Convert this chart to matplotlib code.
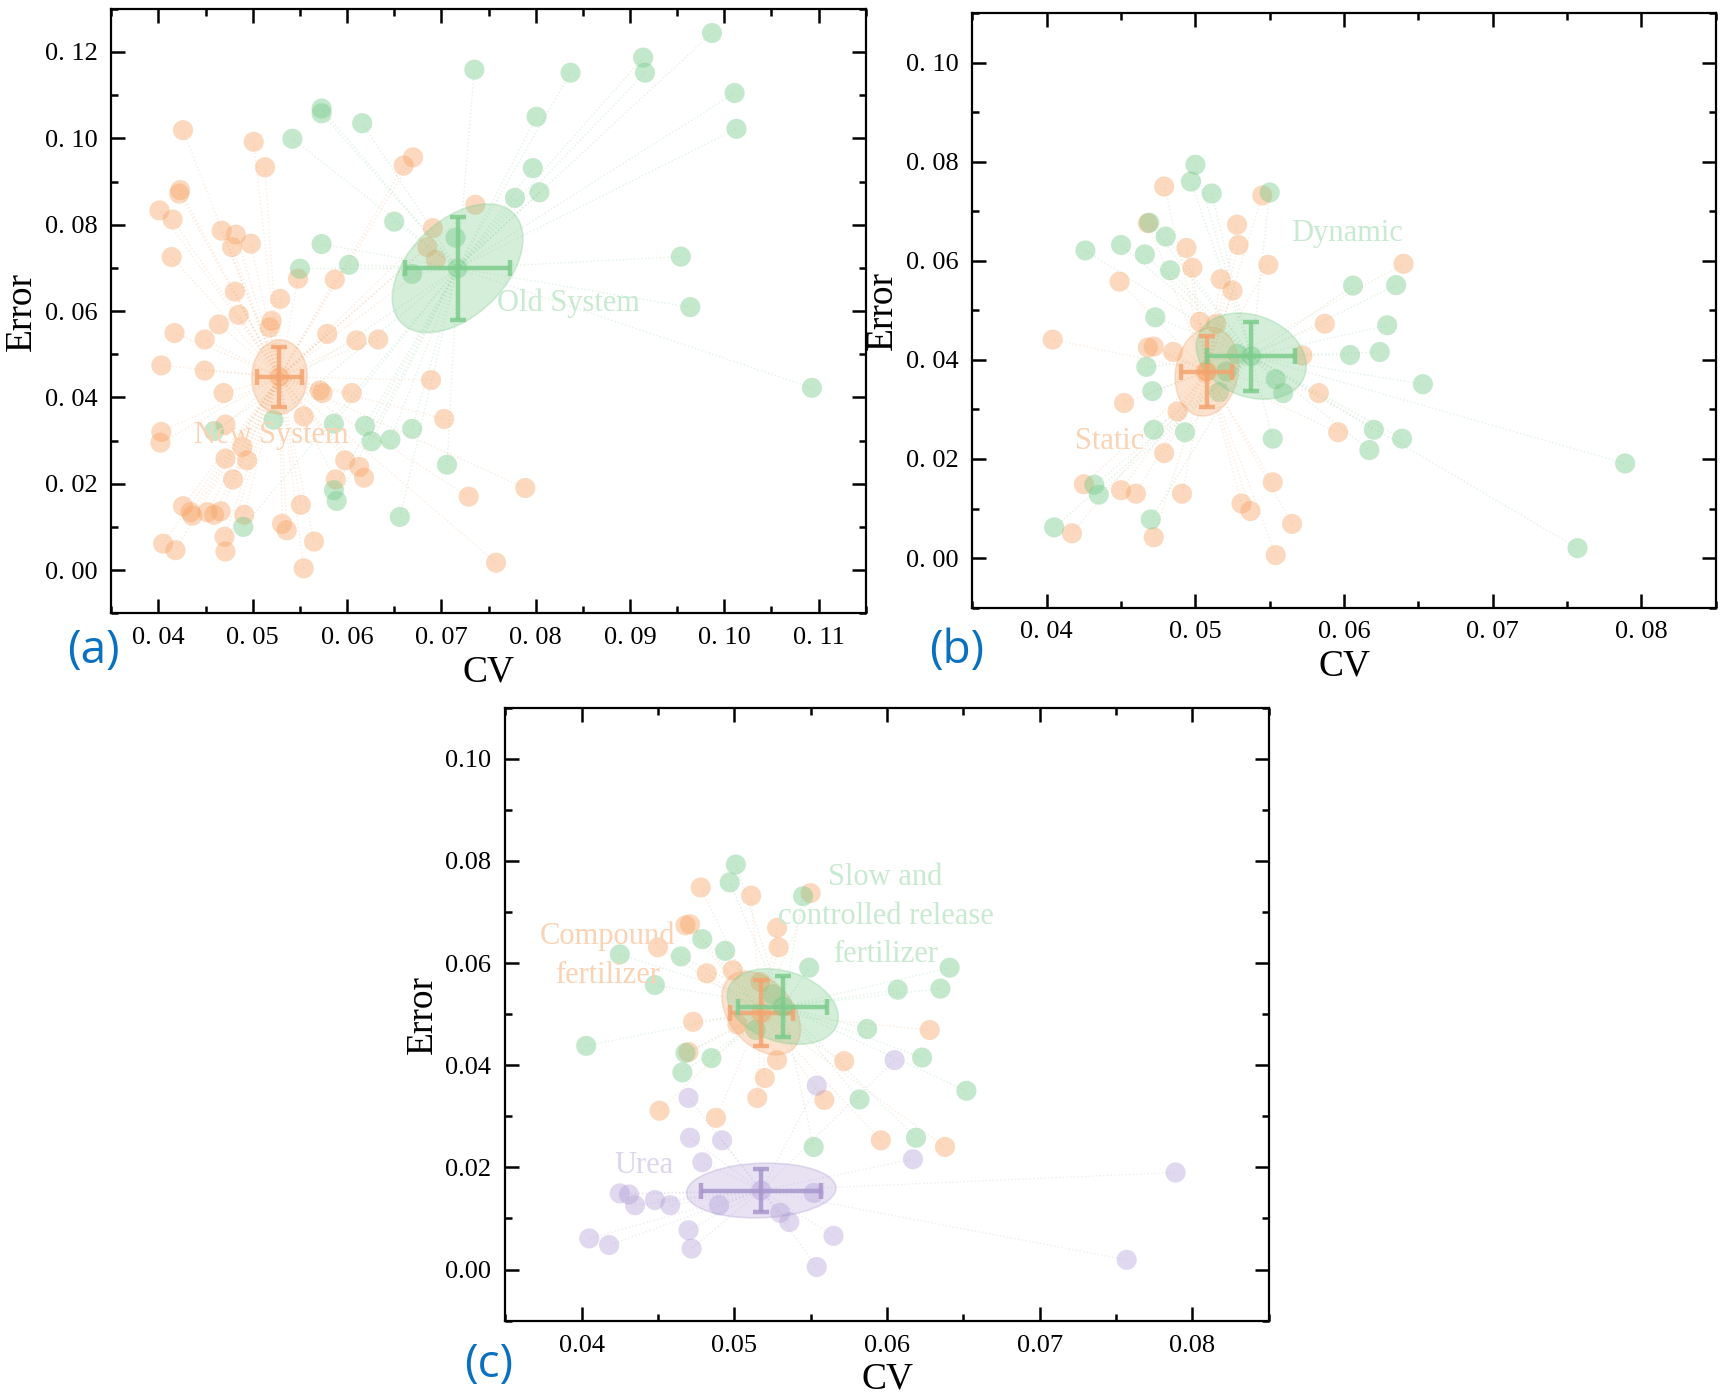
import numpy as np
import matplotlib
matplotlib.use("Agg")
import matplotlib.pyplot as plt
from matplotlib.patches import Ellipse
from matplotlib.ticker import MultipleLocator, FuncFormatter

# ---------------- data ----------------
# Panel (a)
a_new_cv = [0.0426, 0.0501, 0.0513, 0.0423, 0.0422, 0.0401, 0.0415, 0.0414, 0.0467, 0.0482,
            0.0478, 0.0498, 0.0660, 0.0670, 0.0736, 0.0691, 0.0685, 0.0694, 0.0548, 0.0587,
            0.0529, 0.0481, 0.0485, 0.0520, 0.0518, 0.0464, 0.0417, 0.0449, 0.0579, 0.0610,
            0.0633, 0.0403, 0.0449, 0.0469, 0.0574, 0.0571, 0.0605, 0.0689, 0.0703, 0.0554,
            0.0471, 0.0403, 0.0402, 0.0489, 0.0471, 0.0494, 0.0598, 0.0613, 0.0618, 0.0588,
            0.0479, 0.0789, 0.0729, 0.0426, 0.0434, 0.0436, 0.0452, 0.0459, 0.0466, 0.0491,
            0.0551, 0.0531, 0.0536, 0.0565, 0.0470, 0.0471, 0.0405, 0.0418, 0.0554, 0.0758]
a_new_err = [0.1019, 0.0992, 0.0933, 0.0880, 0.0872, 0.0833, 0.0812, 0.0725, 0.0786, 0.0777,
             0.0748, 0.0756, 0.0937, 0.0956, 0.0846, 0.0792, 0.0748, 0.0719, 0.0675, 0.0673,
             0.0628, 0.0645, 0.0591, 0.0577, 0.0562, 0.0569, 0.0549, 0.0534, 0.0547, 0.0532,
             0.0534, 0.0474, 0.0462, 0.0410, 0.0410, 0.0416, 0.0410, 0.0440, 0.0350, 0.0356,
             0.0337, 0.0320, 0.0295, 0.0285, 0.0258, 0.0254, 0.0254, 0.0239, 0.0214, 0.0210,
             0.0210, 0.0190, 0.0170, 0.0148, 0.0134, 0.0126, 0.0134, 0.0128, 0.0136, 0.0128,
             0.0151, 0.0107, 0.0092, 0.0066, 0.0077, 0.0043, 0.0061, 0.0046, 0.0004, 0.0017]
a_old_cv = [0.0987, 0.0735, 0.0837, 0.0914, 0.0916, 0.1011, 0.1013, 0.0801, 0.0573, 0.0573,
            0.0616, 0.0542, 0.0797, 0.0804, 0.0778, 0.0650, 0.0573, 0.0715, 0.0602, 0.0550,
            0.0669, 0.0954, 0.0964, 0.1093, 0.0522, 0.0586, 0.0619, 0.0626, 0.0646, 0.0669,
            0.0706, 0.0586, 0.0589, 0.0656, 0.0490, 0.0459]
a_old_err = [0.1244, 0.1159, 0.1152, 0.1187, 0.1152, 0.1105, 0.1022, 0.1050, 0.1069, 0.1058,
             0.1035, 0.0999, 0.0931, 0.0875, 0.0862, 0.0807, 0.0755, 0.0770, 0.0707, 0.0698,
             0.0686, 0.0726, 0.0609, 0.0422, 0.0348, 0.0339, 0.0334, 0.0298, 0.0302, 0.0327,
             0.0244, 0.0185, 0.0160, 0.0123, 0.0100, 0.0322]

# Panel (b)
b_static_cv = [0.0479, 0.0545, 0.0468, 0.0528, 0.0529, 0.0494, 0.0498, 0.0549, 0.0640, 0.0449,
               0.0517, 0.0525, 0.0503, 0.0514, 0.0587, 0.0404, 0.0468, 0.0472, 0.0485, 0.0572,
               0.0507, 0.0583, 0.0452, 0.0488, 0.0596, 0.0479, 0.0425, 0.0450, 0.0460, 0.0491,
               0.0552, 0.0531, 0.0537, 0.0565, 0.0417, 0.0472, 0.0554]
b_static_err = [0.0750, 0.0732, 0.0676, 0.0673, 0.0632, 0.0626, 0.0586, 0.0592, 0.0594, 0.0558,
                0.0563, 0.0540, 0.0477, 0.0473, 0.0473, 0.0441, 0.0425, 0.0427, 0.0416, 0.0409,
                0.0376, 0.0333, 0.0313, 0.0296, 0.0254, 0.0212, 0.0149, 0.0137, 0.0130, 0.0130,
                0.0153, 0.0110, 0.0095, 0.0069, 0.0050, 0.0042, 0.0006]
b_dyn_cv = [0.0500, 0.0497, 0.0511, 0.0550, 0.0469, 0.0480, 0.0426, 0.0450, 0.0466, 0.0483,
            0.0606, 0.0635, 0.0473, 0.0629, 0.0604, 0.0624, 0.0528, 0.0467, 0.0521, 0.0554,
            0.0559, 0.0471, 0.0516, 0.0653, 0.0472, 0.0493, 0.0552, 0.0620, 0.0617, 0.0639,
            0.0789, 0.0757, 0.0432, 0.0435, 0.0470, 0.0405]
b_dyn_err = [0.0794, 0.0760, 0.0736, 0.0738, 0.0677, 0.0649, 0.0621, 0.0632, 0.0613, 0.0581,
             0.0550, 0.0551, 0.0486, 0.0470, 0.0410, 0.0416, 0.0412, 0.0386, 0.0377, 0.0361,
             0.0333, 0.0337, 0.0335, 0.0351, 0.0259, 0.0254, 0.0241, 0.0259, 0.0218, 0.0241,
             0.0191, 0.0020, 0.0148, 0.0128, 0.0078, 0.0062]

# Panel (c)
c_comp_cv = [0.0478, 0.0511, 0.0550, 0.0468, 0.0471, 0.0528, 0.0529, 0.0450, 0.0482, 0.0499,
             0.0517, 0.0502, 0.0473, 0.0628, 0.0470, 0.0528, 0.0572, 0.0520, 0.0515, 0.0559,
             0.0451, 0.0488, 0.0596, 0.0638]
c_comp_err = [0.0748, 0.0732, 0.0737, 0.0674, 0.0676, 0.0669, 0.0631, 0.0631, 0.0580, 0.0586,
              0.0563, 0.0480, 0.0485, 0.0469, 0.0426, 0.0410, 0.0408, 0.0375, 0.0336, 0.0332,
              0.0311, 0.0297, 0.0253, 0.0240]
c_slow_cv = [0.0501, 0.0497, 0.0545, 0.0479, 0.0425, 0.0465, 0.0494, 0.0448, 0.0549, 0.0641,
             0.0607, 0.0635, 0.0525, 0.0514, 0.0587, 0.0403, 0.0468, 0.0485, 0.0623, 0.0466,
             0.0652, 0.0582, 0.0619, 0.0552]
c_slow_err = [0.0793, 0.0758, 0.0731, 0.0647, 0.0617, 0.0613, 0.0624, 0.0557, 0.0591, 0.0591,
              0.0548, 0.0550, 0.0539, 0.0469, 0.0471, 0.0438, 0.0424, 0.0414, 0.0415, 0.0386,
              0.0350, 0.0333, 0.0258, 0.0240]
c_urea_cv = [0.0605, 0.0554, 0.0470, 0.0471, 0.0492, 0.0479, 0.0617, 0.0789, 0.0425, 0.0431,
             0.0435, 0.0448, 0.0458, 0.0490, 0.0552, 0.0530, 0.0536, 0.0565, 0.0470, 0.0472,
             0.0405, 0.0418, 0.0554, 0.0757]
c_urea_err = [0.0410, 0.0360, 0.0336, 0.0258, 0.0253, 0.0210, 0.0216, 0.0190, 0.0149, 0.0147,
              0.0126, 0.0136, 0.0126, 0.0126, 0.0150, 0.0111, 0.0093, 0.0066, 0.0077, 0.0041,
              0.0061, 0.0048, 0.0005, 0.0019]

group_names_a = ["New System", "Old System"]
group_names_b = ["Static", "Dynamic"]
group_names_c = ["Compound\nfertilizer", "Slow and\ncontrolled release\nfertilizer", "Urea"]

# ---------------- style ----------------
ORANGE = "#F7A465"
GREEN = "#74C987"
PURPLE = "#B3A2D8"
ORANGE_D = "#F3A470"
GREEN_D = "#7DCC8D"
PURPLE_D = "#A796CC"
TXT_ORANGE = "#FBD3B4"
TXT_GREEN = "#C8EAD0"
TXT_PURPLE = "#DDD5EE"

W, H = 1721, 1400
fig = plt.figure(figsize=(W / 100, H / 100), dpi=100)

SERIF = ["Liberation Serif", "DejaVu Serif"]


def draw_group(ax, xs, ys, color, dcolor):
    xs = np.asarray(xs)
    ys = np.asarray(ys)
    n = len(xs)
    mx, my = xs.mean(), ys.mean()
    for x, y in zip(xs, ys):
        ax.plot([mx, x], [my, y], ls=":", lw=1.0, color=color, alpha=0.22, zorder=1)
    ax.scatter(xs, ys, s=210, color=color, alpha=0.42, edgecolors="none", zorder=2)
    cov = np.cov(xs, ys) / n
    vals, vecs = np.linalg.eigh(cov)
    order = vals.argsort()[::-1]
    vals, vecs = vals[order], vecs[:, order]
    ang = np.degrees(np.arctan2(vecs[1, 0], vecs[0, 0]))
    k = np.sqrt(5.991)
    ell = Ellipse((mx, my), 2 * k * np.sqrt(vals[0]), 2 * k * np.sqrt(vals[1]), angle=ang,
                  facecolor=color, alpha=0.3, edgecolor=dcolor, lw=1.2, zorder=3)
    ax.add_patch(ell)
    sex = 1.96 * xs.std(ddof=1) / np.sqrt(n)
    sey = 1.96 * ys.std(ddof=1) / np.sqrt(n)
    ax.scatter([mx], [my], s=210, color=color, alpha=0.45, edgecolors="none", zorder=4)
    ax.errorbar([mx], [my], xerr=[sex], yerr=[sey], fmt="none", ecolor=dcolor,
                alpha=0.85, elinewidth=3.2, capsize=6, capthick=3.2, zorder=4)


def style_axes(ax, xlim, ylim, xmaj, ymaj, spaced):
    ax.set_xlim(*xlim)
    ax.set_ylim(*ylim)
    ax.xaxis.set_major_locator(MultipleLocator(xmaj))
    ax.xaxis.set_minor_locator(MultipleLocator(xmaj / 2))
    ax.yaxis.set_major_locator(MultipleLocator(ymaj))
    ax.yaxis.set_minor_locator(MultipleLocator(ymaj / 2))
    if spaced:
        fmt = FuncFormatter(lambda v, p: f"{v:.2f}".replace(".", ". "))
    else:
        fmt = FuncFormatter(lambda v, p: f"{v:.2f}")
    ax.xaxis.set_major_formatter(fmt)
    ax.yaxis.set_major_formatter(fmt)
    ax.tick_params(which="both", direction="in", top=True, right=True, width=1.8)
    ax.tick_params(which="major", length=10, labelsize=19, pad=10)
    ax.tick_params(which="minor", length=5)
    for lab in ax.get_xticklabels() + ax.get_yticklabels():
        lab.set_fontfamily(SERIF)
    for sp in ax.spines.values():
        sp.set_linewidth(1.6)
    ax.set_xlabel("CV", fontsize=27, family=SERIF, labelpad=4)
    ax.set_ylabel("Error", fontsize=27, family=SERIF, labelpad=4)


# ---------- (a) ----------
axa = fig.add_axes([0.0647, 0.562, 0.4383, 0.4317])
draw_group(axa, a_new_cv, a_new_err, ORANGE, ORANGE_D)
draw_group(axa, a_old_cv, a_old_err, GREEN, GREEN_D)
style_axes(axa, (0.035, 0.115), (-0.01, 0.13), 0.01, 0.02, True)
axa.text(0.0835, 0.0618, group_names_a[1], color=TXT_GREEN, fontsize=22, family=SERIF,
         ha="center", va="center", zorder=5)
axa.text(0.0520, 0.0312, group_names_a[0], color=TXT_ORANGE, fontsize=22, family=SERIF,
         ha="center", va="center", zorder=5)

# ---------- (b) ----------
axb = fig.add_axes([0.565, 0.566, 0.432, 0.4246])
draw_group(axb, b_static_cv, b_static_err, ORANGE, ORANGE_D)
draw_group(axb, b_dyn_cv, b_dyn_err, GREEN, GREEN_D)
style_axes(axb, (0.035, 0.085), (-0.01, 0.11), 0.01, 0.02, True)
axb.text(0.0602, 0.0655, group_names_b[1], color=TXT_GREEN, fontsize=22, family=SERIF,
         ha="center", va="center", zorder=5)
axb.text(0.0442, 0.0236, group_names_b[0], color=TXT_ORANGE, fontsize=22, family=SERIF,
         ha="center", va="center", zorder=5)

# ---------- (c) ----------
axc = fig.add_axes([0.2936, 0.0567, 0.4436, 0.4378])
draw_group(axc, c_comp_cv, c_comp_err, ORANGE, ORANGE_D)
draw_group(axc, c_slow_cv, c_slow_err, GREEN, GREEN_D)
draw_group(axc, c_urea_cv, c_urea_err, PURPLE, PURPLE_D)
style_axes(axc, (0.035, 0.085), (-0.01, 0.11), 0.01, 0.02, False)
axc.text(0.0599, 0.0692, group_names_c[1], color=TXT_GREEN, fontsize=22, family=SERIF,
         ha="center", va="center", linespacing=1.45, zorder=5)
axc.text(0.0417, 0.0615, group_names_c[0], color=TXT_ORANGE, fontsize=22, family=SERIF,
         ha="center", va="center", linespacing=1.45, zorder=5)
axc.text(0.0441, 0.0203, group_names_c[2], color=TXT_PURPLE, fontsize=22, family=SERIF,
         ha="center", va="center", zorder=5)

# panel letters
for lab, (x, y) in zip(["(a)", "(b)", "(c)"], [(0.0545, 0.535), (0.556, 0.535), (0.284, 0.025)]):
    fig.text(x, y, lab, color="#0A70C0", fontsize=33, family=["Open Sans", "DejaVu Sans"],
             ha="center", va="center")

fig.savefig("out.png", dpi=100)
